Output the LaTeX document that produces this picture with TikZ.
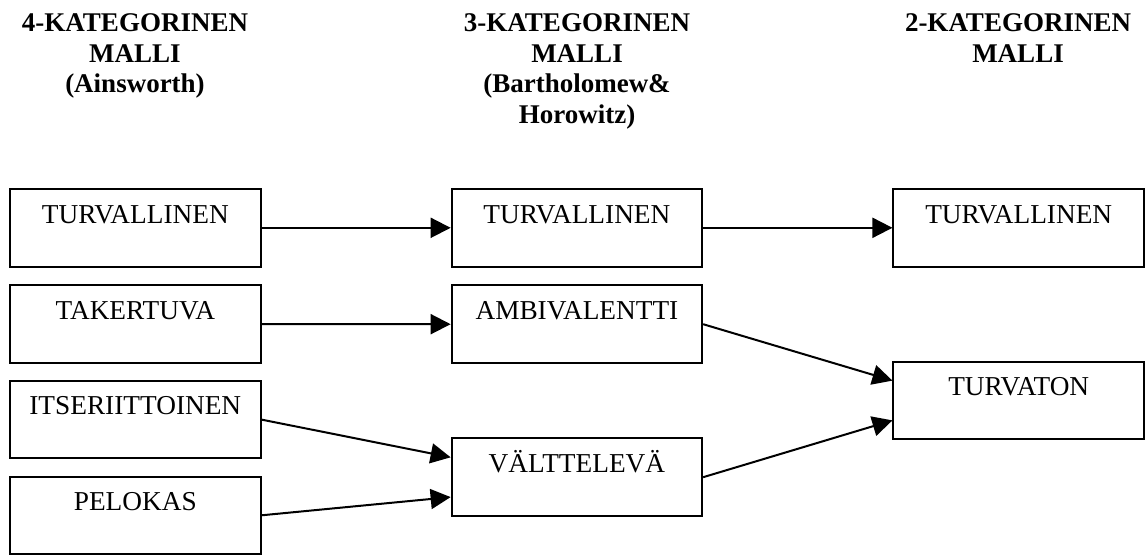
\documentclass[tikz,border=0pt]{standalone}
\usepackage{fontspec}
\setmainfont{Liberation Serif}
\usetikzlibrary{arrows.meta,calc}
\begin{document}
\begin{tikzpicture}[x=1pt,y=-1pt,
  box/.style={draw, line width=2pt, rectangle, minimum width=250.5pt,
    inner xsep=0pt, inner ysep=0pt, text height=34pt, text depth=43.5pt,
    font=\fontsize{27.3}{30}\selectfont},
  head/.style={align=center, font=\fontsize{27}{30.5}\selectfont\bfseries,
    inner sep=0pt, anchor=north},
  conn/.style={line width=2pt, -{Triangle[length=20pt,width=20pt]}}]
\useasboundingbox (0,0) rectangle (1145,554);
% headers
\node[head] (h1) at (135,13.5) {4-KATEGORINEN\\MALLI\\(Ainsworth)};
\node[head] (h2) at (577,13.5) {3-KATEGORINEN\\MALLI\\(Bartholomew\&\\Horowitz)};
\node[head] (h3) at (1018,13.5) {2-KATEGORINEN\\MALLI};
% column 1
\node[box] (t1) at (135.3,227.8) {TURVALLINEN};
\node[box] (tk) at (135.3,324) {TAKERTUVA};
\node[box] (it) at (135.3,419.6) {ITSERIITTOINEN};
\node[box] (pe) at (135.3,515.3) {PELOKAS};
% column 2
\node[box] (t2) at (576.9,227.8) {TURVALLINEN};
\node[box] (am) at (576.9,324.2) {AMBIVALENTTI};
\node[box] (va) at (576.9,477.2) {VÄLTTELEVÄ};
% column 3
\node[box] (t3) at (1018.7,227.8) {TURVALLINEN};
\node[box] (tv) at (1018.7,400.5) {TURVATON};
% connectors
\draw[conn] (t1.east) -- (t2.west);
\draw[conn] (tk.east) -- (am.west);
\draw[conn] (it.east) -- ($(va.north west)!0.25!(va.south west)$);
\draw[conn] (pe.east) -- ($(va.north west)!0.75!(va.south west)$);
\draw[conn] (t2.east) -- (t3.west);
\draw[conn] (am.east) -- ($(tv.north west)!0.25!(tv.south west)$);
\draw[conn] (va.east) -- ($(tv.north west)!0.75!(tv.south west)$);
\end{tikzpicture}
\end{document}
